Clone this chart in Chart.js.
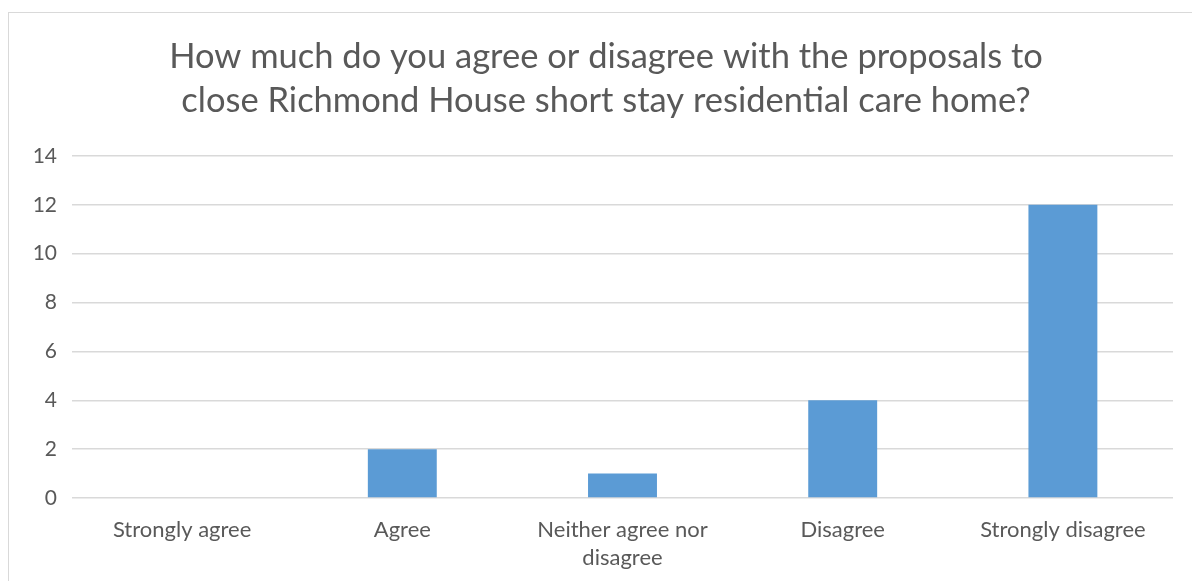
<!DOCTYPE html>
<html>
<head>
<meta charset="utf-8">
<script src="https://cdn.jsdelivr.net/npm/chart.js@4"></script>
<style>
    body { margin: 0; background: #fff; overflow: hidden; }
    #wrap { position: relative; width: 1192px; height: 581px; overflow: hidden; }
    #frame {
        position: absolute; left: 8px; top: 12px;
        width: 1300px; height: 700px;
        border: 1px solid #d9d9d9;
    }
    canvas { position: absolute; left: 0; top: 0; }
</style>
</head>
<body>
<div id="wrap">
    <div id="frame"></div>
    <!-- canvas runs past the right edge so the title centres on the whole frame -->
    <canvas id="canvas-survey" width="1212" height="581"></canvas>
</div>
<script>
const titleLines = [
    'How much do you agree or disagree with the proposals to',
    'close Richmond House short stay residential care home?'
];

const categories = [
    'Strongly agree',
    'Agree',
    ['Neither agree nor', 'disagree'],
    'Disagree',
    'Strongly disagree'
];

const responses = [0, 2, 1, 4, 12];

const yTicks = { min: 0, max: 14, step: 2 };

const textColor = '#595959';
const gridColor = '#d9d9d9';
const fontFamily = 'Lato, "Open Sans", sans-serif';

const config = {
    type: 'bar',
    data: {
        labels: categories,
        datasets: [
            {
                label: 'Responses',
                data: responses,
                backgroundColor: '#5b9bd5',
                borderWidth: 0,
                barPercentage: 1,
                categoryPercentage: 0.313
            }
        ]
    },
    options: {
        responsive: false,
        animation: false,
        layout: {
            padding: 0
        },
        plugins: {
            legend: { display: false },
            tooltip: { enabled: false },
            title: {
                display: true,
                text: titleLines,
                color: textColor,
                font: { family: fontFamily, size: 34.5, weight: 'normal', lineHeight: '44px' },
                padding: { top: 35, bottom: 33 }
            }
        },
        scales: {
            x: {
                grid: { display: false },
                border: { display: false },
                ticks: {
                    color: textColor,
                    font: { family: fontFamily, size: 22, lineHeight: '28px' },
                    padding: 10,
                    maxRotation: 0,
                    autoSkip: false
                },
                afterFit: (scale) => { scale.height = 83; }
            },
            y: {
                min: yTicks.min,
                max: yTicks.max,
                grid: { color: gridColor, lineWidth: 1.5, drawTicks: false },
                border: { display: false },
                ticks: {
                    stepSize: yTicks.step,
                    color: textColor,
                    font: { family: fontFamily, size: 21 },
                    padding: 15
                },
                afterFit: (scale) => { scale.width = 72; }
            },
            // empty right-hand gutter
            gutter: {
                type: 'linear',
                position: 'right',
                grid: { display: false },
                border: { display: false },
                ticks: { display: false },
                afterFit: (scale) => { scale.width = 39; }
            }
        }
    }
};

window.onload = () => {
    new Chart(document.getElementById('canvas-survey').getContext('2d'), config);
};
</script>
</body>
</html>
